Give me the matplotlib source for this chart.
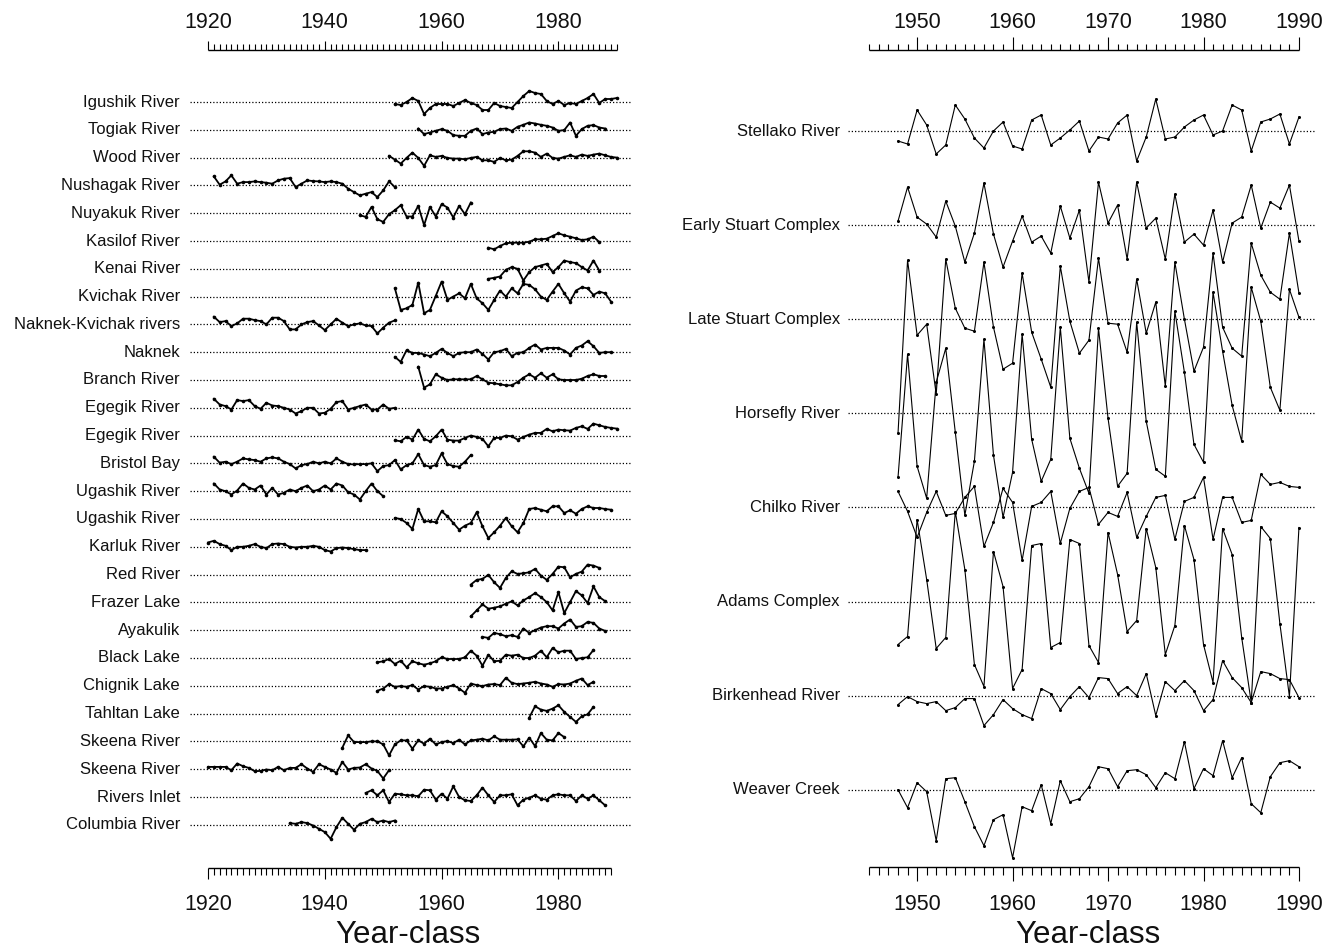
"""
Sockeye salmon survival indices by year-class, two panels of stacked series.
"""
import matplotlib
matplotlib.use("Agg")
import matplotlib.pyplot as plt
import numpy as np

plt.rcParams['font.family'] = ['Liberation Sans', 'DejaVu Sans']

# ---- left panel: stocks, first year-class, deviations (approx. pixel units)
left_names = ['Igushik River', 'Togiak River', 'Wood River', 'Nushagak River',
              'Nuyakuk River', 'Kasilof River', 'Kenai River', 'Kvichak River',
              'Naknek-Kvichak rivers', 'Naknek', 'Branch River', 'Egegik River',
              'Egegik River', 'Bristol Bay', 'Ugashik River', 'Ugashik River',
              'Karluk River', 'Red River', 'Frazer Lake', 'Ayakulik',
              'Black Lake', 'Chignik Lake', 'Tahltan Lake', 'Skeena River',
              'Skeena River', 'Rivers Inlet', 'Columbia River']
left_start = [1952, 1956, 1951, 1921, 1946, 1968, 1968, 1952, 1921, 1952, 1956,
              1921, 1952, 1921, 1921, 1952, 1920, 1965, 1965, 1967, 1949, 1949,
              1975, 1943, 1920, 1947, 1934]
left_values = [
    [-2, -3, 0, 4, 1, -12, -6, -2, -2, -2, -4, -1, 2, -1, -3, -8, -8, -1, -4, -5,
     -6, 0, 6, 11, 9, 8, 1, -2, 1, -3, -1, -2, 1, 4, 8, -1, 3, 3, 4],
    [1.3, -4.3, -2.7, -1, 0.7, -1, -5.3, -6, -6, -1, 1.3, -4.3, -2.7, -2, 0.7, 1.3,
     -1, 3, 5, 7.3, 6.3, 5, 4, 2.3, -1, -0.3, 7.3, -6, 0.7, 4, 4.7, 2.3, 1.3],
    [1.7, -2, -6, -0.3, 5, -0.3, -8.3, 2.3, 0.7, 1.7, -0.3, -1, -1, -1.7, -0.3, 0.7,
     -2.7, -2.7, -4.3, -0.3, -2.7, -2, 1.7, 6.3, 6.3, 5, 0.7, 4, -0.3, -1, 0.7, 2.3,
     0.7, 3, 1.7, 3, 4, 2.3, 0.7, 0],
    [9, 0.7, 4, 10, 1.7, 3.3, 3.3, 4, 3.3, 2.7, 1.7, 5, 6.7, 7.3, -1.7, 1.7, 5, 4.3,
     4, 3.3, 4, 3.3, 1.7, -3.3, -6.7, -10, -8.3, -6.7, -11.7, -5, 4, -1.7],
    [-2, -3.7, 6.3, -6, -8.7, -1, 3, 8, -3.3, -3.3, 7.3, -12, 6.3, -3.3, 9, 5.7,
     -4.3, 7.3, -1, 10.7],
    [-6.7, -8.3, -5, -2.3, -1.7, -1.7, -1.7, -0.7, 1.7, 1.7, 2.3, 5, 7.7, 5.7, 4.3,
     2.7, 1, 1.7, 4.3, -1],
    [-10, -9, -7.7, -1, 1.7, 0, -11.7, -3.3, 1.7, 3.3, 5, -3.3, 1.7, 8.3, 6.7, 5.7,
     1.7, -1.7, 8.3, -1.7],
    [8.3, -13.3, -11.7, -8.3, 14, -16.7, -13.3, 0.7, 15, -3.3, 0, 3.3, -1.7, 12.7,
     -1.7, -6.7, -13.3, -3.3, 6, 0, 8.3, 3.3, 12.7, 11.7, 7.3, 0, -3.3, 5, 12.7, 3.3,
     -5, 6, 9.3, 8.3, 1.7, 5, 3.3, -5],
    [7.7, 2.3, 3.3, -1.7, 1, 5.7, 5.7, 4.3, 3.3, 0, 6.7, 6.7, 3.3, -5, -5, 0, 2.3,
     3.3, -1, -5.7, 0, 5.7, 1.7, -1.7, 0, 1, -1, -1.7, -9, -3.3, 1.7, 4],
    [-4.7, -9.7, 2, -0.7, -0.7, -2.3, -4, -0.7, 3.3, -0.7, -4, -0.7, 0, 0, 2.7, -1.7,
     -7.3, 0, 1, 3.3, -4, -0.7, 0, 4.3, 7.7, 2.7, 4.3, 4.3, 4.3, 1.7, -2.3, 4.3, 6.7,
     11, 6, -0.7, 0, 0],
    [13.3, -7.7, -4.3, 5.7, 2.3, 0, 0.7, 0.7, 0.7, 0.7, 4, 0.7, -2.7, -3.3, -4.3,
     -5.3, -5.3, -2, 2.3, 5.7, 2.3, 6.7, 2.3, 5.7, 0.7, 0, 0, 0, 1.3, 4, 5.7, 4, 4],
    [9, 3.3, 1.7, -1.7, 7.7, 6.7, 7.7, 1.7, -1, 5, 2.3, 1.7, 0, -1.7, -5.7, -3.3, 0,
     0, -5.7, -5, -1, 5.7, 6.7, -1.7, 0, 1.7, 3.3, -1.7, -1.7, 3.3, -1, 0],
    [-4.7, -5.7, -1.3, -4, 6, -3.3, -5.7, -0.7, 6, -4, -5, -5, -2.3, 0, -1.3, -3.3,
     -10.7, -2.3, -2.3, 0, -0.7, -4, -1.3, 1, 2.7, 2.7, 6.7, 4.3, 6, 5.3, 5, 7.7, 9.3,
     6.7, 12, 10.3, 8.7, 7.7, 7],
    [6.7, 0.7, 1.7, -0.7, 1.7, 5, 4, 3.3, 1.7, 5, 6, 5, 1.7, -0.7, -5, -1.7, -0.7,
     1.7, 0, 1.7, 0, 5, 1.7, -0.7, -1, -0.7, -0.7, 0, -7.7, -2.7, -1.7, 3.3, -6, -1.7,
     0, 9.3, -1.7, -3.3, -1.7, 10, -0.7, -2.7, -3.3, 1.7, 8.3],
    [7.7, 1.7, 0, -3.3, 0.7, 7.7, 3.3, 1.7, 5.7, -3.3, 3.3, -3.3, -1.7, 1.7, 0, 3.3,
     5.7, 0, 1.7, 5.7, 1.7, 7.7, 5.7, -1, -3.3, -8.3, 0, 7.7, 0, -5],
    [1, 0, -4, -10, 10, -2.3, -2.3, -3.3, 7.7, 2.7, -4, -10.7, -6.7, -4, 6.7, -7.3,
     -19, -13.3, -6.7, 1, -7.3, -13.3, -4, 10, 11, 9.3, 7.7, 12.7, 12.7, 6, 8.7, 5.3,
     10, 12.7, 11, 11, 10, 9.3],
    [4.3, 6, 2.7, 1, -3.3, 0, 0, 1, 2.7, 0, -1.3, 2.7, 3.3, 2.7, 0, -0.7, 0, 0, 1, 0,
     -3.3, -4.7, -1.3, -0.7, -1.3, -2.3, -3.3, -3.3],
    [-10, -5.3, -4.3, -0.3, -7.7, -13.3, -3.3, 3.3, 0.7, 1.3, 2.3, 5.7, -1, -5.3, 0.7,
     8, 7.3, -2.7, 0.7, 3, 10, 9, 6.7],
    [-14, -8, -2, -6.3, -5.3, -4, -1.3, 1, -3, 2, 5.3, 9.3, 5.3, 0.3, -8, 10.3, -10.7,
     0.3, 11.3, 7, -0.7, 16, 5.3, 1.3],
    [-6.7, -7.7, -2.7, -4, -6, -5, -6.7, 1.7, -2.7, 0, 2.7, 4, 4, 1.7, 6.7, 10.7, 3.3,
     4, 8.3, 7.3, 1.7, -0.7],
    [-4.3, -3.3, -1, -6, -2.7, -9.3, -3.3, -5.3, -6.7, -5.3, -3.3, 0.7, -1, -1, -1,
     0.7, 7.3, 2.3, -7.7, 3.3, -3.3, -2.7, 3.3, 2.3, 3.3, 0, 0, 2.3, 7.3, 0.7, 10, 5.7,
     7.3, 7.3, -1, 0, 0.7, 8],
    [-5, -2.7, 1.7, -1, -0.3, -1, 0.7, -3.7, -0.3, -1, -2.7, -2.7, -1, 0.7, -2.7, -7,
     2.3, 0.7, -0.3, 1.3, 1.7, 0.7, 8, 3, 1.7, 2.3, 3, 4, 2.3, 1.3, -1, 1.7, 1.3, 2.3,
     5, 7.3, 0.7, 4],
    [-4, 7.3, 4, 2.7, 5, 8.3, 1.7, -3.3, -8.3, -2.7, -0.7, 6.7],
    [-6.3, 6, -0.7, -0.7, -0.7, 0, 0, -3, -14, -3, 1, 1, -7.3, 1, -2.3, 2.7, -3, -0.7,
     0.3, -1.7, 1.7, -3, 1, 1.7, 2.7, 1, 5, 1.7, 1.7, 1.7, 2, -5, 3.7, -4.7, 8.3, 1.7,
     1, 8.3, 4.3],
    [2.3, 2.3, 2.3, 2.3, -1, 5.7, 3, 1.3, -2, -1.7, -0.3, -1, 2.3, -1, 1.3, 1.3, 5,
     0.7, -2.7, 5, 2.3, -0.3, -3.7, 7.3, -0.3, 1.3, 1.7, 5, 0.7, -1.7, -9.3, -1],
    [4, 6.7, 1.7, 6.7, -5, 3.3, 2.7, 1.7, 1.7, 0.7, 7.3, 6.7, -2.7, 3.3, -1.7, 10.7,
     0, -3.3, -4, 1.7, 9.3, 1.7, -5, 1.7, 1.7, 2.7, -8.3, -2.7, -0.7, 1.7, -1.7, -2.7,
     1.7, 2.7, 1.7, 1.7, -4, 1.7, -1.7, 1.7, -3.3, -8.3],
    [1.7, 1, 2.7, 1.7, -0.7, -4, -7.3, -14, -2.3, 7, 1, -5, 1, 2.7, 6, 2.7, 4.3, 2.7,
     4.3],
]

# ---- right panel: Fraser River stocks, year-classes 1948-1990
right_names = ['Stellako River', 'Early Stuart Complex', 'Late Stuart Complex',
               'Horsefly River', 'Chilko River', 'Adams Complex',
               'Birkenhead River', 'Weaver Creek']
right_start = 1948
right_values = [
    [-1.0, -1.3, 2.1, 0.6, -2.3, -1.4, 2.6, 1.2, -0.7, -1.7, 0.0, 0.9, -1.5, -1.8,
     1.1, 1.6, -1.4, -0.7, 0.1, 1.0, -2.0, -0.6, -0.8, 0.8, 1.6, -3.0, -0.6, 3.2,
     -0.8, -0.6, 0.4, 1.1, 1.6, -0.4, 0.0, 2.6, 2.1, -2.0, 0.9, 1.2, 1.7, -1.3, 1.4],
    [0.4, 3.8, 0.8, 0.1, -1.2, 2.4, -0.1, -3.7, -0.8, 4.2, -0.9, -4.2, -1.6, 0.9,
     -1.7, -1.1, -2.8, 1.9, -1.3, 1.5, -5.7, 4.3, 0.2, 2.0, -3.4, 4.3, -0.3, 0.7,
     -3.4, 3.1, -1.7, -0.9, -2.0, 1.5, -3.7, 0.2, 0.8, 4.0, -0.3, 2.3, 1.7, 4.0, -1.6],
    [-11.4, 5.9, -1.6, -0.5, -7.5, 6.0, 1.1, -0.9, -1.2, 5.7, -0.8, -5.0, -4.4, 4.6,
     -1.3, -4.0, -6.8, 5.3, -0.2, -3.4, -2.1, 6.1, -0.4, -0.5, -3.3, 4.0, -1.4, 1.7,
     -6.7, 5.7, 0.0, -5.2, -2.8, 6.6, -0.8, -2.9, -3.7, 7.6, 4.4, 2.7, 2.0, 8.6, 2.6],
    [-6.4, 5.9, -5.3, -8.5, 3.1, 6.5, -1.9, -10.2, -4.8, 7.4, -4.2, -10.4, -5.9, 7.9,
     -2.6, -6.8, -4.6, 8.6, -2.5, -5.5, -8.0, 8.5, -0.5, -7.3, -6.0, 9.1, -0.8, -5.6,
     -6.3, 10.2, 4.1, -3.1, -4.9, 12.1, 6.2, 0.8, -2.8, 12.6, 9.2, 2.6, 0.3, 12.4, 9.6],
    [1.6, -0.4, -3.0, -0.5, 1.6, -0.8, -0.6, 1.0, 2.1, -3.9, -1.5, 1.9, 0.5, -5.3,
     0.1, 0.5, 1.6, -3.6, -0.1, 1.6, 2.0, -1.7, -0.5, -0.9, 1.5, -3.0, -0.9, 1.0, 1.2,
     -3.2, 0.6, 1.0, 3.0, -3.2, 1.0, 1.0, -1.5, -1.3, 3.3, 2.3, 2.5, 2.1, 2.0],
    [-4.3, -3.5, 8.2, 2.2, -4.7, -3.6, 9.0, 3.2, -6.3, -8.5, 5.0, 1.5, -8.7, -6.8,
     5.6, 5.8, -4.6, -4.1, 6.2, 5.8, -4.4, -6.1, 6.9, 2.7, -3.0, -1.9, 7.3, 3.4, -5.3,
     -2.4, 7.6, 4.2, -4.3, -8.1, 7.3, 4.7, -3.6, -10.1, 7.5, 6.3, -2.2, -9.5, 7.4],
    [-0.9, -0.1, -0.6, -0.8, -0.6, -1.5, -1.2, -0.3, -0.3, -3.0, -1.9, -0.4, -1.3,
     -1.9, -2.3, 0.7, 0.2, -1.4, -0.1, 0.9, -0.2, 1.8, 1.7, 0.2, 0.9, 0.0, 2.2, -2.0,
     1.4, 0.5, 1.5, 0.5, -1.5, -0.4, 3.5, 1.8, 0.8, -0.7, 2.4, 2.2, 1.7, 1.6, -0.2],
    [0.0, -1.8, 0.7, -0.2, -5.1, 1.1, 1.2, -1.2, -3.7, -5.6, -3.0, -2.5, -6.8, -1.7,
     -2.1, 0.5, -3.4, 0.9, -1.2, -0.9, 0.3, 2.3, 2.1, 0.3, 1.9, 2.0, 1.5, 0.2, 1.7,
     1.1, 4.8, 0.1, 2.1, 1.4, 4.9, 1.2, 3.2, -1.4, -2.3, 1.3, 2.7, 2.9, 2.3],
]

left_ticks = [1920, 1940, 1960, 1980]
right_ticks = [1950, 1960, 1970, 1980, 1990]

W, H = 1335, 949
fig = plt.figure(figsize=(W / 100, H / 100), dpi=100)

# axes boxes in pixels; y axis runs in pixels (top = 0)
axL = fig.add_axes([190 / W, 0, 442 / W, 1])
axL.set_xlim(1916.92, 1992.6)
axR = fig.add_axes([848 / W, 0, 467 / W, 1])
axR.set_xlim(1942.76, 1991.68)
for ax in (axL, axR):
    ax.set_ylim(H, 0)
    ax.axis('off')

dots = (0, (1, 1.6))


def draw_panel(ax, names, starts, values, top, step, amp, lw, ms, pad):
    x0, x1 = ax.get_xlim()
    for i, (name, st, vals) in enumerate(zip(names, starts, values)):
        base = top + i * step
        ax.plot([x0, x1], [base, base], color='k', lw=0.9, ls=dots)
        yrs = st + np.arange(len(vals))
        ax.plot(yrs, base - np.asarray(vals) * amp, color='k', lw=lw,
                marker='o', ms=ms, mew=0)
        ax.annotate(name, xy=(x0, base), xytext=(-pad, 0),
                    textcoords='offset pixels', ha='right', va='center',
                    fontsize=12, color='#111111', annotation_clip=False)


def ruler(ax, years, majors, y0, sign, minor_len, major_len, label_y):
    ax.plot([years[0], years[-1]], [y0, y0], color='k', lw=1.0,
            solid_capstyle='butt')
    lens = np.where(np.isin(years, majors), major_len, minor_len)
    ax.vlines(years, y0, y0 + sign * lens, color='k', lw=0.8)
    for t in majors:
        ax.text(t, label_y, str(t), ha='center', va='center', fontsize=15.5,
                color='#111111')


draw_panel(axL, left_names, left_start, left_values, 102, 27.8, 1.0, 1.3, 2.6, 10)
draw_panel(axR, right_names, [right_start] * len(right_names), right_values,
           131, 94.1, 10.0, 0.8, 2.2, 8)

ruler(axL, np.arange(1920, 1991), left_ticks, 50, -1, 6, 9, 22)
ruler(axL, np.arange(1920, 1990), left_ticks, 868, 1, 7, 11, 905)
ruler(axR, np.arange(1945, 1991), right_ticks, 50, -1, 6, 13, 22)
ruler(axR, np.arange(1945, 1991), right_ticks, 867, 1, 8, 14, 905)

axL.text(1954.2, 935, 'Year-class', ha='center', va='center', fontsize=22.5,
         color='#111111')
axR.text(1967.9, 935, 'Year-class', ha='center', va='center', fontsize=22.5,
         color='#111111')

fig.savefig('out.png', dpi=100, facecolor='white')
